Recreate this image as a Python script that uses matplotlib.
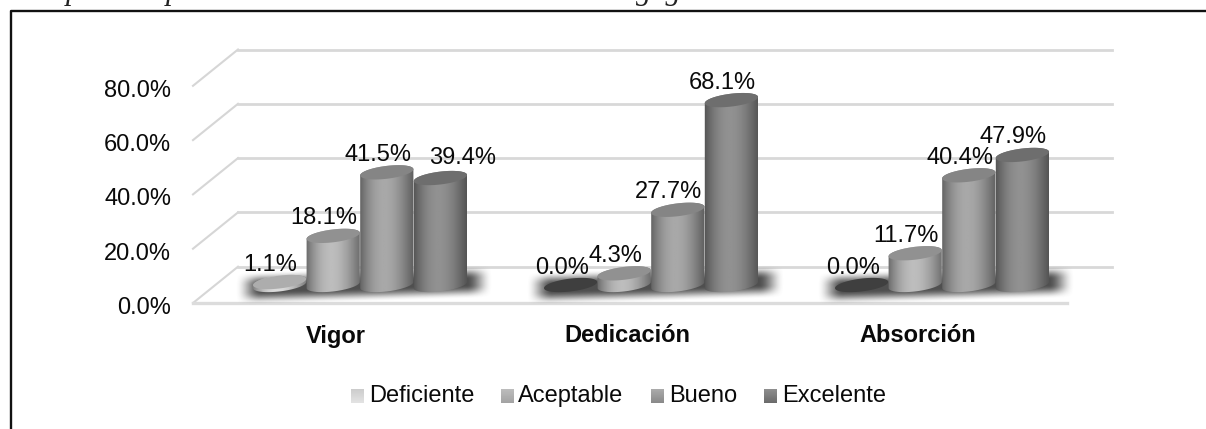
import numpy as np
import matplotlib
matplotlib.use("Agg")
import matplotlib.pyplot as plt
from matplotlib.patches import Polygon
from matplotlib.lines import Line2D
from matplotlib.transforms import Affine2D

plt.rcParams["font.family"] = ["Liberation Sans", "DejaVu Sans"]

categories = ["Vigor", "Dedicación", "Absorción"]
series = ["Deficiente", "Aceptable", "Bueno", "Excelente"]
deficiente = [1.1, 0.0, 0.0]
aceptable = [18.1, 4.3, 11.7]
bueno = [41.5, 27.7, 40.4]
excelente = [39.4, 68.1, 47.9]
y_ticks = [0, 20, 40, 60, 80]

W, H = 1206, 429
PX_X = 291.0    # px per category
PX_Y = 2.715    # px per percent
X0, Y0 = 360, 285  # px of first category, value 0

# grey levels of cylinder highlight / cap
body_grey = [0.86, 0.74, 0.66, 0.57]
cap_grey = [0.68, 0.57, 0.52, 0.43]
legend_grey = [(0.80, 0.89), (0.74, 0.64), (0.67, 0.54), (0.56, 0.42)]

fig = plt.figure(figsize=(W / 100, H / 100), dpi=100)
ax = fig.add_axes([0, 0, 1, 1])
ax.axis("off")
xlim = (-X0 / PX_X, (W - X0) / PX_X)
ylim = ((Y0 - H) / PX_Y, Y0 / PX_Y)
# layout things are placed in image pixels
pix = Affine2D().scale(1, -1).translate(0, H)


def ellipse(cx, v, t, a=26.8, b=6.4, tilt=np.radians(7.0)):
    xp = a * np.cos(t) * np.cos(tilt) - b * np.sin(t) * np.sin(tilt)
    yp = a * np.cos(t) * np.sin(tilt) + b * np.sin(t) * np.cos(tilt)
    return np.column_stack([cx + xp / PX_X, v + yp / PX_Y])


def cylinder(cx, v, i):
    if v == 0:
        pts = ellipse(cx, v, np.linspace(0, 2 * np.pi, 80))
        ax.add_patch(Polygon(pts, fc="#3f3f3f", ec="none", zorder=4))
        return
    body = np.vstack([ellipse(cx, 0, np.linspace(np.pi, 2 * np.pi, 40)),
                      ellipse(cx, v, np.linspace(0, np.pi, 40))])
    u = np.linspace(0, 1, 80)
    grey = body_grey[i] * (0.56 + 0.44 * np.sin(np.pi * u ** 0.9))
    half = 27.5 / PX_X
    im = ax.imshow(grey[None, :], cmap="gray", vmin=0, vmax=1, aspect="auto",
                   extent=[cx - half, cx + half, -10, v + 10],
                   interpolation="bilinear", zorder=4)
    im.set_clip_path(Polygon(body, transform=ax.transData))
    cap = ellipse(cx, v, np.linspace(0, 2 * np.pi, 80))
    ax.add_patch(Polygon(cap, fc=str(cap_grey[i]), ec="none", zorder=4))


def shadow(cx):
    # soft tilted shadow under a group of bars
    px = np.arange(-150, 151)
    py = np.arange(-30, 31)
    uu, vv = np.meshgrid(px, py)
    vv = vv + 0.03 * uu
    ramp_x = np.clip((129 - np.abs(uu)) / 26.0, 0, 1)
    ramp_y = np.clip((17 - np.abs(vv)) / 14.0, 0, 1)
    alpha = (ramp_x * ramp_x * (3 - 2 * ramp_x)) * (ramp_y * ramp_y * (3 - 2 * ramp_y)) * 0.92
    rgba = np.zeros(alpha.shape + (4,))
    rgba[..., :3] = 0.25
    rgba[..., 3] = alpha
    ax.imshow(rgba, aspect="auto", interpolation="bilinear", zorder=3,
              extent=[cx - 150 / PX_X, cx + 150 / PX_X, -30 / PX_Y, 30 / PX_Y])


# walls and floor
back_off = (Y0 - 266.7) / PX_Y
front_off = (Y0 - 303) / PX_Y
x_front = (193 - X0) / PX_X
x_back = (238 - X0) / PX_X
x_end = (1112 - X0) / PX_X
x_floor_end = (1067 - X0) / PX_X
text_shift = 2.5 / PX_Y
for v in y_ticks:
    ax.plot([x_front, x_back], [v + front_off, v + back_off], color="#d6d6d6", lw=1.5, zorder=1)
    ax.plot([x_back, x_end], [v + back_off, v + back_off], color="#d8d8d8", lw=2.0, zorder=1)
    ax.text((171 - X0) / PX_X, v + front_off - 2 * text_shift, f"{v:.1f}%", ha="right", va="center",
            fontsize=17, color="#0a0a0a")
ax.plot([x_front, x_floor_end], [front_off, front_off], color="#dcdcdc", lw=2.4, zorder=1)

# bars
values = [deficiente, aceptable, bueno, excelente]
offsets = [-1.5, -0.5, 0.5, 1.5]
for g in range(len(categories)):
    shadow(g + 4 / PX_X)
    for i in range(len(series)):
        cx = g + offsets[i] * 53.6 / PX_X
        cylinder(cx, values[i][g], i)
        dx = 22 if (g == 0 and i == 3) else -9
        dy = 23 if (g == 0 and i == 3) else 20
        ax.text(cx + dx / PX_X, values[i][g] + dy / PX_Y - text_shift, f"{values[i][g]:.1f}%",
                ha="center", va="center", fontsize=17, color="#0a0a0a", zorder=6)
    ax.text(g - 24 / PX_X, (Y0 - 336) / PX_Y, categories[g], ha="center", va="center",
            fontsize=17, fontweight="bold", color="#0a0a0a")

# legend
legend_x = [351, 501, 651, 764]
text_x = [369, 518, 669, 782]
for i, name in enumerate(series):
    grad = np.linspace(legend_grey[i][0], legend_grey[i][1], 20)[:, None]
    ax.imshow(grad, cmap="gray", vmin=0, vmax=1, aspect="auto", zorder=4,
              extent=[(legend_x[i] - X0) / PX_X, (legend_x[i] + 13 - X0) / PX_X,
                      (Y0 - 403) / PX_Y, (Y0 - 389) / PX_Y])
    ax.text(text_x[i], 396, name, transform=pix, ha="left", va="center",
            fontsize=17, color="#0a0a0a")

# frame and the cut off caption above it
fig.add_artist(Line2D([10.5, 10.5, W], [H, 11, 11], transform=pix, color="#111111", lw=1.7))
for x, s in [(73, "p"), (173, "p"), (659, "gag")]:
    ax.text(x, -1, s, transform=pix, family="Liberation Serif", style="italic",
            fontsize=22, ha="center", va="baseline", color="#222222")

ax.set_xlim(xlim)
ax.set_ylim(ylim)
fig.savefig("out.png", dpi=100)
plt.close(fig)
